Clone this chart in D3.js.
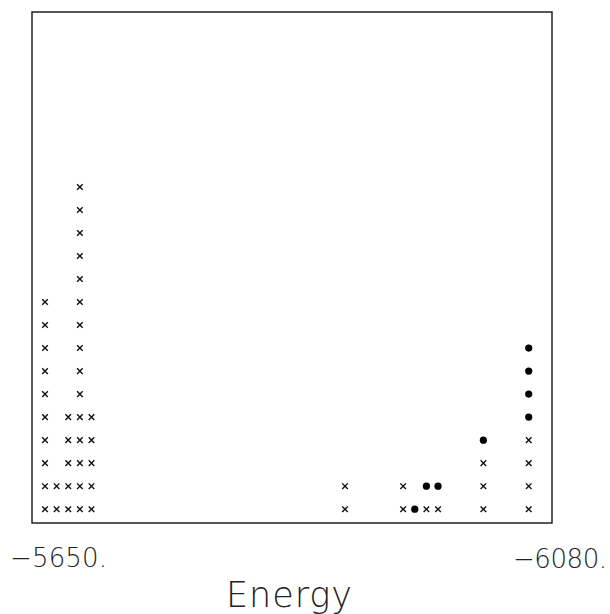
<!DOCTYPE html>
<html>
<head>
<meta charset="utf-8">
<script src="https://cdn.jsdelivr.net/npm/d3@7"></script>
<style>
  body { margin: 0; background: #fff; }
  text { font-family: "DejaVu Sans", sans-serif; font-weight: 200; fill: #222; }
</style>
</head>
<body>
<svg width="610" height="614"></svg>
<script>
// energy of each column, with how many crosses and dots are stacked there
var energies = [-5650, -5660, -5670, -5680, -5690, -5908, -5958, -5968, -5978, -5988, -6027, -6066];
var crossCounts = [10, 2, 5, 15, 5, 2, 2, 0, 1, 1, 3, 4];
var dotCounts   = [0, 0, 0, 0, 0, 0, 0, 1, 1, 1, 1, 4];
var tickLabels = ["\u22125650.", "\u22126080."];
var axisTitle = "Energy";

var svg = d3.select("svg");

var box = {left: 32, right: 552, top: 12, bottom: 523};

var x = d3.scaleLinear()
  .domain([-5650, -6080])
  .range([45, 545]);

// stack index -> vertical position
var y = d3.scaleLinear()
  .domain([-0.6, 21.6])
  .range([box.bottom, box.top]);

// build the stacked marks: crosses first, dots on top
var marks = [];
energies.forEach(function(e, i) {
  var k = 0, j;
  for (j = 0; j < crossCounts[i]; j++) marks.push({e: e, level: k++, type: "cross"});
  for (j = 0; j < dotCounts[i]; j++) marks.push({e: e, level: k++, type: "dot"});
});

svg.append("rect")
  .attr("x", box.left)
  .attr("y", box.top)
  .attr("width", box.right - box.left)
  .attr("height", box.bottom - box.top)
  .attr("fill", "none")
  .attr("stroke", "#111")
  .attr("stroke-width", 1.4);

var s = 2.8;
var crosses = svg.append("g")
  .selectAll("path")
  .data(marks.filter(function(d) { return d.type == "cross"; }))
  .enter().append("path")
  .attr("d", function(d) {
    var cx = x(d.e), cy = y(d.level);
    return "M" + (cx - s) + "," + (cy - s) + "L" + (cx + s) + "," + (cy + s) +
           "M" + (cx - s) + "," + (cy + s) + "L" + (cx + s) + "," + (cy - s);
  })
  .attr("stroke", "#111")
  .attr("stroke-width", 1.4);

svg.append("g")
  .selectAll("circle")
  .data(marks.filter(function(d) { return d.type == "dot"; }))
  .enter().append("circle")
  .attr("cx", function(d) { return x(d.e); })
  .attr("cy", function(d) { return y(d.level); })
  .attr("r", 3.6)
  .attr("fill", "#000");

// end labels of the energy axis
svg.append("text")
  .attr("x", 10)
  .attr("y", 567)
  .attr("font-size", 26)
  .attr("textLength", 97)
  .attr("lengthAdjust", "spacing")
  .text(tickLabels[0]);

svg.append("text")
  .attr("x", 513)
  .attr("y", 568)
  .attr("font-size", 26)
  .attr("textLength", 94)
  .attr("lengthAdjust", "spacing")
  .text(tickLabels[1]);

svg.append("text")
  .attr("x", 226)
  .attr("y", 607)
  .attr("font-size", 35)
  .attr("textLength", 126)
  .attr("lengthAdjust", "spacing")
  .text(axisTitle);
</script>
</body>
</html>
